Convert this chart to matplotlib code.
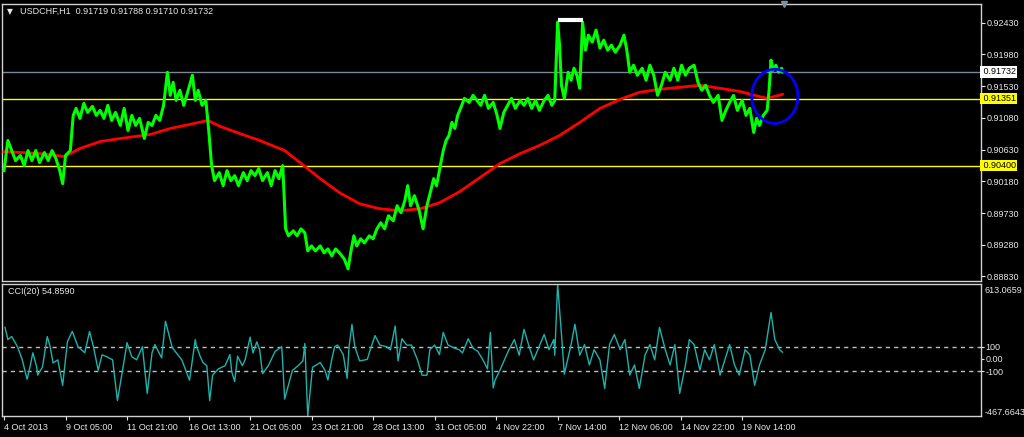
import matplotlib
matplotlib.use("Agg")
import matplotlib.pyplot as plt
from matplotlib.patches import Ellipse

# USDCHF H1 close line, sampled (bar index, price)
price_bar = [0, 4, 8, 12, 17, 21, 25, 29, 33, 37, 42, 46, 50, 54, 58, 61, 64, 69, 72, 75,
             79, 83, 87, 92, 96, 100, 104, 108, 112, 116, 121, 125, 129, 133, 137, 141, 146, 150, 154, 158,
             162, 166, 170, 173, 176, 179, 183, 187, 191, 196, 199, 202, 206, 210, 213, 216, 219, 224, 228, 232,
             236, 240, 244, 249, 253, 257, 261, 265, 269, 274, 278, 282, 286, 290, 293, 296, 301, 305, 309, 313,
             316, 320, 324, 329, 333, 337, 341, 345, 349, 354, 358, 361, 364, 367, 371, 375, 380, 384, 388, 392,
             396, 400, 405, 409, 413, 417, 420, 423, 427, 432, 436, 440, 444, 447, 450, 453, 457, 460, 463, 466,
             469, 472, 475, 479, 484, 488, 492, 496, 500, 504, 509, 513, 516, 520, 524, 528, 532, 537, 541, 545,
             549, 553, 557, 562, 566, 570, 573, 576, 578, 580, 583, 587, 590, 593, 596, 599, 602, 605, 608, 612,
             616, 620, 624, 628, 632, 636, 641, 645, 648, 651, 655, 659, 664, 668, 672, 676, 680, 684, 688, 693,
             697, 701, 705, 709, 713, 718, 722, 726, 730, 734, 738, 743, 747, 751, 755, 759, 763, 768, 772, 776,
             780, 783, 786, 790, 794, 796, 798, 800, 803, 806, 809, 810]
price_close = [0.90332, 0.90760, 0.90617, 0.90475, 0.90546, 0.90404, 0.90617, 0.90475, 0.90617, 0.90446,
               0.90589, 0.90475, 0.90617, 0.90503, 0.90332, 0.90147, 0.90546, 0.90617, 0.91116, 0.91215,
               0.91073, 0.91286, 0.91158, 0.91244, 0.91116, 0.91187, 0.91073, 0.91258, 0.91044, 0.91158,
               0.90973, 0.91215, 0.90902, 0.91116, 0.90973, 0.91073, 0.90788, 0.91016, 0.90973, 0.91116,
               0.91044, 0.91258, 0.91728, 0.91400, 0.91585, 0.91329, 0.91472, 0.91258, 0.91443, 0.91685,
               0.91329, 0.91472, 0.91258, 0.91329, 0.90902, 0.90404, 0.90190, 0.90304, 0.90119, 0.90332,
               0.90190, 0.90261, 0.90119, 0.90304, 0.90190, 0.90332, 0.90261, 0.90361, 0.90190, 0.90304,
               0.90119, 0.90332, 0.90218, 0.90404, 0.89506, 0.89407, 0.89478, 0.89407, 0.89506, 0.89449,
               0.89193, 0.89264, 0.89193, 0.89264, 0.89165, 0.89221, 0.89122, 0.89221, 0.89165, 0.89079,
               0.88937, 0.89193, 0.89407, 0.89264, 0.89364, 0.89307, 0.89407, 0.89364, 0.89506, 0.89592,
               0.89506, 0.89692, 0.89620, 0.89834, 0.89734, 0.89905, 0.90119, 0.89834, 0.89976, 0.89763,
               0.89506, 0.89834, 0.90048, 0.90218, 0.90119, 0.90332, 0.90617, 0.90760, 0.90831, 0.91016,
               0.90930, 0.91116, 0.91215, 0.91357, 0.91300, 0.91400, 0.91329, 0.91258, 0.91400, 0.91215,
               0.91300, 0.91116, 0.90930, 0.91158, 0.91258, 0.91357, 0.91215, 0.91329, 0.91258, 0.91357,
               0.91215, 0.91329, 0.91187, 0.91329, 0.91400, 0.91258, 0.91329, 0.92440, 0.92112, 0.91543,
               0.91357, 0.91728, 0.91614, 0.91785, 0.91685, 0.91500, 0.92440, 0.92041, 0.92255, 0.92155,
               0.92326, 0.92070, 0.92184, 0.92041, 0.92112, 0.92013, 0.92112, 0.92255, 0.92041, 0.91728,
               0.91828, 0.91685, 0.91785, 0.91614, 0.91828, 0.91685, 0.91400, 0.91543, 0.91728, 0.91614,
               0.91785, 0.91614, 0.91828, 0.91685, 0.91785, 0.91828, 0.91585, 0.91472, 0.91543, 0.91400,
               0.91300, 0.91400, 0.91044, 0.91187, 0.91300, 0.91400, 0.91187, 0.91329, 0.91116, 0.91215,
               0.90873, 0.91073, 0.90973, 0.91116, 0.91187, 0.91472, 0.91899, 0.91756, 0.91828, 0.91728,
               0.91785, 0.91732]

# moving average (red)
ma_bar = [0, 37, 63, 79, 100, 121, 152, 173, 193, 212, 225, 245, 266, 292, 308, 329, 349, 370, 391, 412,
          433, 453, 474, 495, 516, 537, 557, 578, 599, 620, 641, 661, 682, 703, 724, 745, 765, 781, 794, 802, 810]
ma_value = [0.90602, 0.90574, 0.90532, 0.90646, 0.90745, 0.90788, 0.90845, 0.90930, 0.90987, 0.91044,
            0.90959, 0.90859, 0.90760, 0.90617, 0.90446, 0.90218, 0.90019, 0.89862, 0.89791, 0.89763,
            0.89791, 0.89876, 0.90033, 0.90232, 0.90432, 0.90574, 0.90688, 0.90831, 0.91016, 0.91215,
            0.91343, 0.91443, 0.91486, 0.91514, 0.91543, 0.91500, 0.91457, 0.91400, 0.91357, 0.91386, 0.91414]

# CCI(20)
cci_bar = [1, 4, 8, 14, 19, 24, 27, 30, 34, 35, 40, 45, 48, 51, 56, 61, 66, 71, 77, 84,
           89, 93, 98, 102, 107, 113, 118, 123, 128, 133, 138, 144, 149, 154, 157, 164, 168, 175, 185, 193,
           199, 200, 204, 207, 211, 214, 217, 223, 230, 235, 237, 240, 243, 248, 251, 256, 259, 263, 266, 269,
           275, 282, 289, 292, 300, 306, 311, 313, 316, 321, 329, 334, 337, 341, 344, 347, 353, 357, 359, 362,
           365, 370, 378, 381, 386, 391, 398, 402, 407, 410, 414, 419, 424, 430, 435, 440, 443, 448, 453, 457,
           462, 469, 474, 477, 483, 488, 493, 498, 503, 506, 509, 511, 516, 525, 531, 536, 541, 546, 551, 562,
           567, 572, 573, 576, 580, 583, 590, 594, 599, 604, 609, 614, 620, 625, 630, 635, 641, 646, 651, 656,
           661, 667, 672, 677, 682, 688, 693, 698, 703, 709, 713, 718, 724, 729, 734, 739, 745, 750, 755, 760,
           765, 771, 776, 781, 786, 792, 798, 802, 807, 810]
cci_value = [258, 158, 183, 100, -8, -167, -67, 50, -67, -133, -67, 183, 100, -33, -8, -217, 142, 225, 100, 50,
             225, 100, -92, 33, 17, -8, -342, -108, 133, 17, -8, 100, -283, 50, 117, 8, 308, 92, -8, -175,
             158, 113, 22, -30, -56, -342, -134, -82, -56, 35, -108, -186, 22, -56, -4, 178, 48, 139, 74, -121,
             -56, 61, 100, -329, -95, -56, -17, 126, -467.6643, -69, -30, -95, -173, -4, 100, 113, 35, -160, 100, 282,
             100, -17, -4, 74, 191, 113, 100, 74, 269, -17, 165, 113, 113, -4, -134, -134, 74, 113, 35, 217,
             113, 87, 74, 48, 165, 87, 61, -4, -82, 217, -238, -173, -92, 70, 158, 30, 242, 110, -8, 200,
             75, 158, 30, 613.0659, 200, -125, 117, 283, 30, 117, -50, 75, -8, -242, 117, 200, 75, 158, -133, -50,
             -242, 33, 117, -8, 258, 75, -50, 117, -283, -50, 158, 117, -92, 75, -8, 117, -133, -8, 117, -50,
             -133, 75, 33, -217, -50, 75, 380, 158, 75, 54.859]

price_ticks = [0.92430, 0.91980, 0.91530, 0.91080, 0.90630, 0.90180, 0.89730, 0.89280, 0.88830]
time_ticks = [0, 64, 128, 192, 256, 320, 384, 448, 512, 576, 640, 704, 768]
time_labels = ["4 Oct 2013", "9 Oct 05:00", "11 Oct 21:00", "16 Oct 13:00", "21 Oct 05:00",
               "23 Oct 21:00", "28 Oct 13:00", "31 Oct 05:00", "4 Nov 22:00", "7 Nov 14:00",
               "12 Nov 06:00", "14 Nov 22:00", "19 Nov 14:00"]

bid_level = 0.91732
yellow_levels = [0.91351, 0.90400]
cci_levels = [100, -100]
cci_min, cci_max = -467.6643, 613.0659

FONT = "Liberation Sans"
FS = 6.5
FG = "#e8e8e8"

W, H = 1024, 437
fig = plt.figure(figsize=(W / 100, H / 100), dpi=100, facecolor="black")


def rect(x0, y0, x1, y1):
    return [x0 / W, 1 - y1 / H, (x1 - x0) / W, (y1 - y0) / H]


ax = fig.add_axes(rect(2, 4, 981, 281), facecolor="black")
ax2 = fig.add_axes(rect(2, 284, 981, 416), facecolor="black", sharex=ax)

for a in (ax, ax2):
    for s in a.spines.values():
        s.set_color("#d0d0d0")
        s.set_linewidth(1)
    a.set_xlim(-2.1, 1016.5)

# main panel
ax.set_ylim(0.88766, 0.92696)
ax.axhline(bid_level, color="#778899", lw=1)
for lv in yellow_levels:
    ax.axhline(lv, color="#ffff00", lw=1)
ax.plot(ma_bar, ma_value, color="#ff0000", lw=2, zorder=3)
ax.plot(price_bar, price_close, color="#00ff00", lw=2.2, zorder=4)
ax.plot([576, 602], [0.92468, 0.92468], color="white", lw=3, solid_capstyle="butt", zorder=5)
ax.add_patch(Ellipse((802, 0.91386), 48, 0.00769, fill=False, ec="#0000ff", lw=2, zorder=6))

ax.yaxis.tick_right()
ax.set_yticks(price_ticks)
ax.set_yticklabels([f"{v:.5f}" for v in price_ticks], fontsize=FS, color=FG, family=FONT)
ax.tick_params(axis="y", direction="out", length=3, color=FG, pad=1)
ax.tick_params(axis="x", bottom=False, labelbottom=False)

for lv, bg in [(bid_level, "white")] + [(v, "#ffff00") for v in yellow_levels]:
    ax.text(1.0, lv, f" {lv:.5f}", transform=ax.get_yaxis_transform(), fontsize=FS,
            family=FONT, color="black", va="center", ha="left",
            bbox=dict(boxstyle="square,pad=0.12", fc=bg, ec="none"))

ax.text(0.005, 0.972, "\u25bc", transform=ax.transAxes, fontsize=5.5, color=FG,
        va="center", ha="left", family="DejaVu Sans")
ax.text(0.018, 0.972, "USDCHF,H1  0.91719 0.91788 0.91710 0.91732", transform=ax.transAxes,
        fontsize=FS, color=FG, va="center", ha="left", family=FONT)
ax.plot([812], [0.92696], marker="v", color="#8090a0", ms=5, clip_on=False, zorder=7)

# CCI panel
ax2.set_ylim(cci_min, cci_max)
for lv in cci_levels:
    ax2.axhline(lv, color="#c0c0c0", lw=1, ls=(0, (3, 3)))
ax2.plot(cci_bar, cci_value, color="#20b2aa", lw=1)
ax2.yaxis.tick_right()
ax2.set_yticks([100, 0, -100])
ax2.set_yticklabels(["100", "0.00", "-100"], fontsize=FS, color=FG, family=FONT)
ax2.tick_params(axis="y", direction="out", length=2, color=FG, pad=1)
ax2.text(1.004, 0.985, "613.0659", transform=ax2.transAxes, fontsize=FS, color=FG,
         va="top", ha="left", family=FONT)
ax2.text(1.004, 0.03, "-467.6643", transform=ax2.transAxes, fontsize=FS, color=FG,
         va="center", ha="left", family=FONT)
ax2.text(0.006, 0.94, "CCI(20) 54.8590", transform=ax2.transAxes, fontsize=FS, color=FG,
         va="center", ha="left", family=FONT)

ax2.set_xticks(time_ticks)
ax2.set_xticklabels(time_labels, fontsize=FS, color=FG, family=FONT)
for lbl in ax2.get_xticklabels():
    lbl.set_horizontalalignment("left")
ax2.tick_params(axis="x", direction="out", length=3, color=FG, pad=2)

fig.savefig("out.png", dpi=100, facecolor="black")
